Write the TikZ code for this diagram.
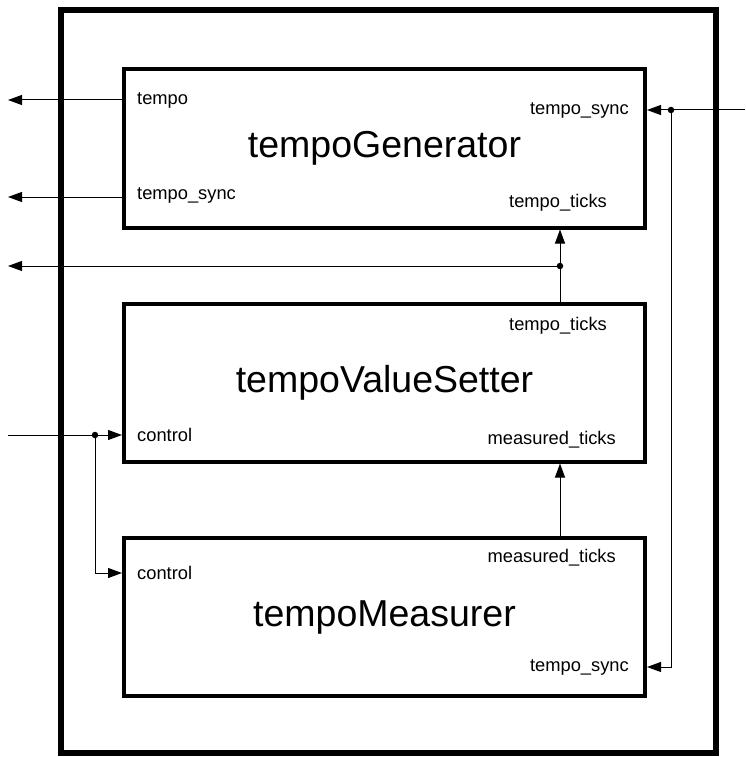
\documentclass[tikz,border=0pt]{standalone}
\usepackage{fontspec}
\setmainfont{Liberation Sans}
\usetikzlibrary{arrows.meta,positioning}

\tikzset{
  block/.style={draw, line width=4pt, minimum width=521pt, minimum height=158pt,
    font=\fontsize{37.5}{40}\selectfont, inner sep=0pt},
  port/.style={font=\fontsize{18.3}{21}\selectfont, inner sep=0pt},
  sig/.style={line width=1pt, -{Triangle[length=14pt,width=10pt]}},
  junct/.style={circle, fill, inner sep=0pt, minimum size=6.5pt}
}

\begin{document}
\begin{tikzpicture}[x=1pt, y=-1pt]
  \useasboundingbox (0,0) rectangle (745,757);
  % outer frame
  \draw[line width=6pt] (61,10) rectangle (716,753);

  % the three blocks
  \node[block] (gen) at (384.5,148.5) {tempoGenerator};
  \node[block] (set) at (384.5,382.5) {tempoValueSetter};
  \node[block] (meas) at (384.5,617) {tempoMeasurer};

  % port labels
  \node[port, anchor=west] (genTempo) at (137,100) {tempo};
  \node[port, anchor=west] (genSyncOut) at (137,195) {tempo\_sync};
  \node[port, anchor=east] (genSyncIn) at (629,110) {tempo\_sync};
  \node[port, anchor=east] (genTicks) at (607,203) {tempo\_ticks};
  \node[port, anchor=east] (setTicks) at (607,326) {tempo\_ticks};
  \node[port, anchor=east] (setMeas) at (616,440) {measured\_ticks};
  \node[port, anchor=west] (setCtrl) at (137,435) {control};
  \node[port, anchor=east] (measTicks) at (616,558) {measured\_ticks};
  \node[port, anchor=west] (measCtrl) at (137,573) {control};
  \node[port, anchor=east] (measSync) at (629,667) {tempo\_sync};

  % free ends and junctions
  \coordinate (outTempo) at (8,100);
  \coordinate (outSync) at (8,197);
  \coordinate (outTicks) at (8,266);
  \coordinate (inSync) at (745,110);
  \coordinate (inCtrl) at (8,435);
  \node[junct] (jTicks) at (560,266) {};
  \node[junct] (jSync) at (671,110) {};
  \node[junct] (jCtrl) at (95,435) {};

  % outputs of tempoGenerator
  \draw[sig] (gen.west |- 0,100) -- (outTempo);
  \draw[sig] (gen.west |- 0,197) -- (outSync);

  % tempo_ticks
  \draw[sig] (set.north -| jTicks) -- (gen.south -| jTicks);
  \draw[sig] (jTicks) -- (outTicks);

  % measured_ticks
  \draw[sig] (meas.north -| jTicks) -- (set.south -| jTicks);

  % tempo_sync input
  \draw[sig] (inSync) -- (gen.east |- jSync);
  \draw[sig] (jSync) |- (meas.east |- 0,667);

  % control input
  \draw[sig] (inCtrl) -- (set.west |- jCtrl);
  \draw[sig] (jCtrl) |- (meas.west |- 0,573);
\end{tikzpicture}
\end{document}
